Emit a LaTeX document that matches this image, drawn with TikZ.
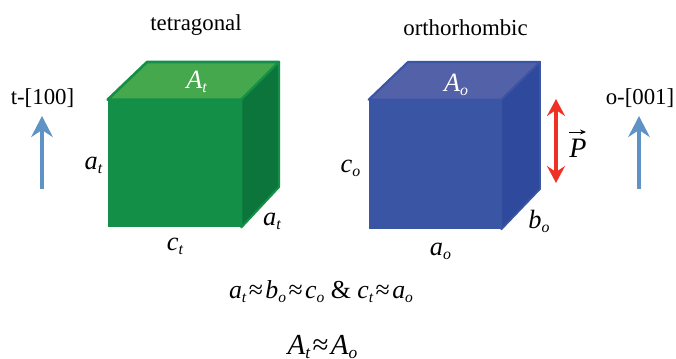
\documentclass[tikz,border=0pt]{standalone}
\usepackage{fontspec}
\setmainfont{Liberation Serif}
\usepackage{xcolor}
\usetikzlibrary{arrows.meta,positioning,calc}
\definecolor{greenfront}{HTML}{138F47}
\definecolor{greentop}{HTML}{45A84C}
\definecolor{greenside}{HTML}{0C753B}
\definecolor{bluefront}{HTML}{3B55A5}
\definecolor{bluetop}{HTML}{5361A9}
\definecolor{blueside}{HTML}{2F4A9C}
\definecolor{axisblue}{HTML}{5F92C5}
\definecolor{polred}{HTML}{EE3124}
\newcommand{\symb}[2]{{\itshape #1\raisebox{-0.32ex}{\fontsize{0.6em}{1em}\selectfont #2}}}
\newcommand{\approxrel}{\kern1.4pt≈\kern1.4pt}
\tikzset{
  title/.style={font=\fontsize{13}{15}\selectfont,inner sep=0pt},
  symlabel/.style={font=\fontsize{15}{17}\selectfont,inner sep=0pt},
  axisarrow/.style={-{Stealth[length=4.2mm,width=4.3mm,inset=1.4mm]},line width=2.8pt,axisblue},
  polarrow/.style={{Stealth[length=3.4mm,width=3.6mm,inset=1.2mm]}-{Stealth[length=3.4mm,width=3.6mm,inset=1.2mm]},
                   line width=2.5pt,polred},
}
\begin{document}
\begin{tikzpicture}
  \useasboundingbox (0,0) rectangle (13.52,7.16);

  % ---- Tetragonal cell ----
  \node[fill=greenfront,inner sep=0pt,minimum width=2.66cm,minimum height=2.54cm]
    (tfront)at(3.49,3.89){};
  \coordinate (tbacktl)at(2.94,5.92);
  \coordinate (tbacktr)at(5.58,5.92);
  \coordinate (tbackbr)at(5.58,3.42);
  \draw[fill=greentop,draw=greenfront,line width=1.5pt,line join=round]
    (tfront.north west)--(tbacktl)--(tbacktr)--(tfront.north east)--cycle;
  \draw[fill=greenside,draw=greenfront,line width=1.2pt,line join=round]
    (tfront.north east)--(tbacktr)--(tbackbr)--(tfront.south east)--cycle;

  % ---- Orthorhombic cell ----
  \node[fill=bluefront,inner sep=0pt,minimum width=2.64cm,minimum height=2.58cm]
    (ofront)at(8.70,3.87){};
  \coordinate (obacktl)at(8.16,5.92);
  \coordinate (obacktr)at(10.80,5.92);
  \coordinate (obackbr)at(10.80,3.38);
  \draw[fill=bluetop,draw=bluefront,line width=1.2pt,line join=round]
    (ofront.north west)--(obacktl)--(obacktr)--(ofront.north east)--cycle;
  \draw[fill=blueside,draw=bluefront,line width=1pt,line join=round]
    (ofront.north east)--(obacktr)--(obackbr)--(ofront.south east)--cycle;

  % ---- Titles ----
  \node[title] (ttitle)at(3.92,6.66){tetragonal};
  \node[title] (otitle)at(9.31,6.60){orthorhombic};
  \node[title] (taxis)at(0.85,5.20){t-[100]};
  \node[title] (oaxis)at(12.80,5.20){o-[001]};

  % ---- Axis arrows ----
  \coordinate (tfoot)at(0.84,3.38);
  \coordinate (ofoot)at(12.78,3.38);
  \coordinate (ttip)at(0.84,4.84);
  \coordinate (otip)at(12.78,4.84);
  \draw[axisarrow] (tfoot)--(ttip);
  \draw[axisarrow] (ofoot)--(otip);

  % ---- Polarisation ----
  \coordinate (pup)at(11.12,5.18);
  \coordinate (pdown)at(11.12,3.50);
  \draw[polarrow] (pdown)--(pup);
  \node[symlabel,font=\fontsize{16}{18}\selectfont\itshape] (plabel)at(11.56,4.20){P};
  \coordinate (ptail)at(11.38,4.52);
  \coordinate (phead)at(11.72,4.52);
  \draw[-{Stealth[length=1.2mm,width=1mm]},line width=0.5pt] (ptail)--(phead);

  % ---- Edge and face labels ----
  \node[symlabel,white] (atop)at(3.93,5.53){\symb{A}{t}};
  \node[symlabel] (aleft)at(1.87,3.85){\symb{a}{t}};
  \node[symlabel] (cbot)at(3.50,2.23){\symb{c}{t}};
  \node[symlabel] (aright)at(5.44,2.74){\symb{a}{t}};
  \node[symlabel,white] (aotop)at(9.12,5.47){\symb{A}{o}};
  \node[symlabel] (cleft)at(7.01,3.80){\symb{c}{o}};
  \node[symlabel] (abot)at(8.81,2.13){\symb{a}{o}};
  \node[symlabel] (bright)at(10.78,2.74){\symb{b}{o}};

  % ---- Relations ----
  \node[symlabel,font=\fontsize{14.7}{17}\selectfont] (rel)at(6.42,1.32)
    {\symb{a}{t}\approxrel\symb{b}{o}\approxrel\symb{c}{o} \& \symb{c}{t}\approxrel\symb{a}{o}};
  \node[symlabel,font=\fontsize{16.5}{18}\selectfont] (area)at(6.45,0.22)
    {\symb{A}{t}\approxrel\symb{A}{o}};
\end{tikzpicture}
\end{document}
